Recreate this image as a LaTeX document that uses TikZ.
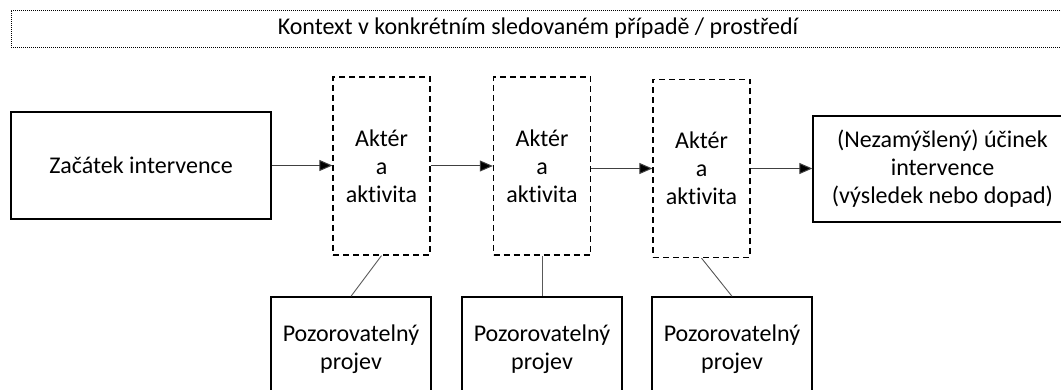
\documentclass[tikz,border=0pt]{standalone}
\usepackage{fontspec}
\setmainfont[Ligatures=NoCommon]{Carlito}
\usetikzlibrary{arrows.meta}

\begin{document}
\begin{tikzpicture}[x=1pt, y=-1pt,
    every node/.style={font=\fontsize{24}{28}\selectfont, align=center, inner sep=0pt},
    box/.style={draw, line width=1.4pt},
    aktbox/.style={draw, line width=1.3pt, dash pattern=on 6pt off 4pt, minimum width=97pt, minimum height=178pt},
    projbox/.style={box, minimum width=160pt, minimum height=104pt},
    flow/.style={draw=black!75, line width=1pt, -{Triangle[length=13pt, width=11pt, fill=black]}},
    link/.style={draw=black!65, line width=0.9pt}]

          \useasboundingbox (0,0) rectangle (1061,390);
          \clip (0,0) rectangle (1061,390);

          \node[draw, line width=0.8pt, dash pattern=on 1pt off 1pt, minimum width=1054pt, minimum height=37pt]
            (context) at (538,28.5) {Kontext v konkrétním sledovaném případě / prostředí};

          \node[box, minimum width=260pt, minimum height=107pt] (start) at (141,165.5) {Začátek intervence};
          \node[box, minimum width=259pt, minimum height=106pt] (effect) at (942.5,169)
            {(Nezamýšlený) účinek\\intervence\\(výsledek nebo dopad)};

          \foreach \i/\ax/\ay/\px in {1/381.5/166/351, 2/542/166/542, 3/701.5/168.5/732}{
            \node[aktbox] (akt\i) at (\ax,\ay) {Aktér\\a\\aktivita};
            \node[projbox] (proj\i) at (\px,349) {Pozorovatelný\\projev};
            \draw[link] (akt\i.south) -- (proj\i.north);
          }

          \draw[flow] (start.east) -- (start.east -| akt1.west);
          \draw[flow] (akt1.east) -- (akt1.east -| akt2.west);
          \draw[flow] (akt2.east |- akt3.west) -- (akt3.west);
          \draw[flow] (akt3.east) -- (akt3.east -| effect.west);
        \end{tikzpicture}
\end{document}
